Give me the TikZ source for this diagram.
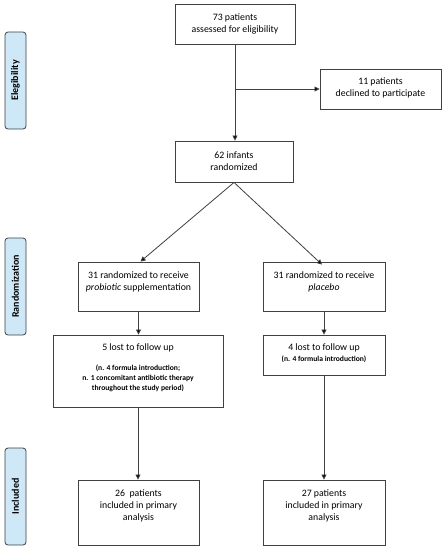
\documentclass[tikz,border=0pt]{standalone}
\usepackage{fontspec}
\setmainfont{Carlito}
\usetikzlibrary{arrows.meta}
\definecolor{linegray}{HTML}{404040}
\definecolor{phasefill}{HTML}{CFE8F8}
\begin{document}
\begin{tikzpicture}[x=1pt,y=-1pt,
  box/.style={draw=linegray,line width=0.9pt,rectangle,inner sep=0pt,fill=white},
  txt/.style={align=center,font=\fontsize{9.8}{12}\selectfont,inner sep=0pt},
  small/.style={align=center,font=\fontsize{7.6}{10}\selectfont\bfseries,inner sep=0pt},
  phase/.style={draw=linegray,line width=0.8pt,fill=phasefill,rounded corners=3pt,rotate=90,
    minimum width=97pt,minimum height=21pt,inner sep=0pt,font=\fontsize{10}{11}\selectfont\bfseries},
  conn/.style={draw=linegray,line width=0.8pt,-{Triangle[length=5pt,width=5pt,fill=black]}}
]
\useasboundingbox[fill=white] (0,0) rectangle (446,550);
% phase labels
\node[phase] (pe) at (15.5,80.5) {Elegibility};
\node[phase] (pr) at (15.5,286.5) {Randomization};
\node[phase] (pi) at (15.5,496.5) {Included};
% boxes
\node[box,minimum width=120pt,minimum height=40pt] (top) at (235,24) {};
\node[txt] (ttop) at (235,24) {73 patients\\assessed for eligibility};
\node[box,minimum width=121pt,minimum height=40pt] (dec) at (380.5,89) {};
\node[txt] (tdec) at (380.5,88) {11 patients\\declined to participate};
\node[box,minimum width=118pt,minimum height=41pt] (rand) at (234,161.5) {};
\node[txt] (trand) at (234,161) {62 infants\\randomized};
\node[box,minimum width=121pt,minimum height=49pt] (l31) at (138.5,286.5) {};
\node[txt] (tl31) at (138.5,282) {31 randomized to receive\\\textit{probiotic} supplementation};
\node[box,minimum width=122pt,minimum height=49pt] (r31) at (324,286.5) {};
\node[txt] (tr31) at (324,282) {31 randomized to receive\\\textit{placebo}};
\node[box,minimum width=170pt,minimum height=72pt] (l5) at (138,371) {};
\node[txt] (tl5) at (138,348) {5 lost to follow up};
\node[small] (sl5) at (138,378) {(n. 4 formula introduction;\\n. 1 concomitant antibiotic therapy\\throughout the study period)};
\node[box,minimum width=122pt,minimum height=40pt] (r4) at (324,355) {};
\node[txt] (tr4) at (324,348) {4 lost to follow up};
\node[small] (sr4) at (324,359.5) {(n. 4 formula introduction)};
\node[box,minimum width=121pt,minimum height=65pt] (l26) at (138.5,512.5) {};
\node[txt] (tl26) at (138.5,506) {26\ \ patients\\included in primary\\analysis};
\node[box,minimum width=122pt,minimum height=65pt] (r27) at (324,512.5) {};
\node[txt] (tr27) at (324,506) {27 patients\\included in primary\\analysis};
% connectors
\coordinate (br) at (top.south |- dec.west);
\draw[conn] (top.south) -- (top.south |- rand.north);
\draw[conn] (br) -- (dec.west);
\draw[conn] (rand.south) -- ([xshift=2pt]l31.north);
\draw[conn] (rand.south) -- ([xshift=-2pt,yshift=-3pt]r31.north);
\draw[conn] (l31.south) -- (l31.south |- l5.north);
\draw[conn] (r31.south) -- (r4.north);
\draw[conn] (l5.south) -- (l5.south |- l26.north);
\draw[conn] (r4.south) -- (r27.north);
\end{tikzpicture}
\end{document}
